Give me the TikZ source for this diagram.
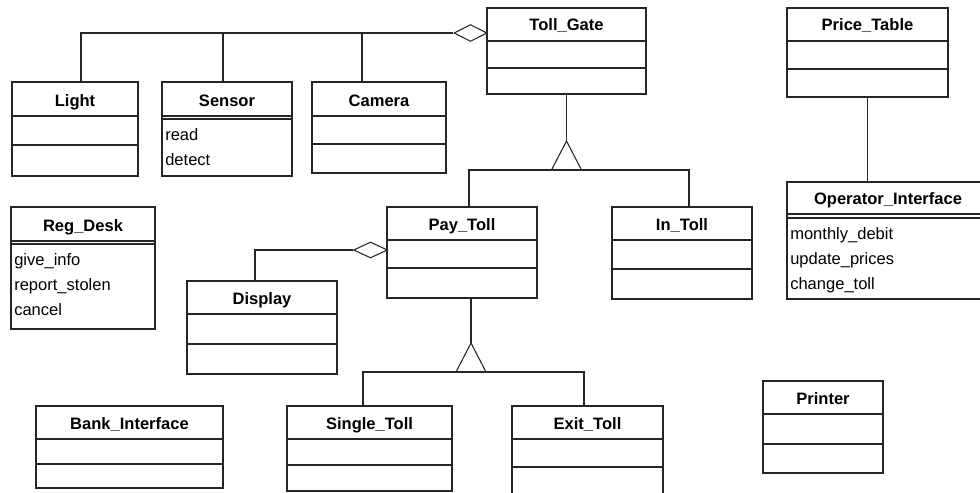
\documentclass[tikz,border=0pt]{standalone}
\usepackage{fontspec}
\setmainfont{Liberation Sans}
\usetikzlibrary{fit,calc,shapes.geometric}

\tikzset{
  umlline/.style={draw=black!85, line width=0.8pt},
  classframe/.style={umlline, inner sep=0pt},
  classname/.style={font=\bfseries\fontsize{12.4}{15}\selectfont, anchor=base, inner sep=0pt},
  opname/.style={font=\fontsize{12.4}{15}\selectfont, anchor=base west, inner sep=0pt},
  aggdiamond/.style={diamond, umlline, fill=white, inner sep=0pt},
}

% #1 name, (#2,#3) top left, (#4,#5) bottom right, #6 bottom of the name compartment, #7 class name
\newcommand\umlclass[7]{%
  \node[classframe, fit={(#2,#3) (#4,#5)}] (#1) {};
  \node[classname] (#1-name) at ({(#2+#4)/2}, #6-10) {#7};
  \draw[umlline] (#2,#6) -- (#4,#6);
}
% #1 name, #2 left, #3 right, #4 y of the divider
\newcommand\umldivider[4]{\draw[umlline] (#2,#4) -- (#3,#4);}

\begin{document}
\begin{tikzpicture}[x=0.75pt, y=-0.75pt]
\useasboundingbox (0,0) rectangle (980,492);

% classes
\umlclass{tollgate}{487}{8}{646}{94}{41}{Toll\_Gate}
\umldivider{tollgate}{487}{646}{68}
\umlclass{pricetable}{787}{8}{948}{97}{41}{Price\_Table}
\umldivider{pricetable}{787}{948}{69}
\umlclass{light}{12}{82}{138}{176}{116}{Light}
\umldivider{light}{12}{138}{145}
\umlclass{sensor}{162}{82}{292}{176}{116}{Sensor}
\umldivider{sensor}{162}{292}{119}
\node[opname] (sensor-op1) at (165,140) {read};
\node[opname] (sensor-op2) at (165,165) {detect};
\umlclass{camera}{312}{82}{446}{173}{116}{Camera}
\umldivider{camera}{312}{446}{144}
\umlclass{regdesk}{11}{207}{155}{329}{241}{Reg\_Desk}
\umldivider{regdesk}{11}{155}{244}
\node[opname] (regdesk-op1) at (14,265) {give\_info};
\node[opname] (regdesk-op2) at (14,290) {report\_stolen};
\node[opname] (regdesk-op3) at (14,315) {cancel};
\umlclass{paytoll}{387}{207}{537}{298}{240}{Pay\_Toll}
\umldivider{paytoll}{387}{537}{268}
\umlclass{intoll}{612}{207}{752}{299}{240}{In\_Toll}
\umldivider{intoll}{612}{752}{269}
\umlclass{operator}{787}{182}{989}{299}{214}{Operator\_Interface}
\umldivider{operator}{787}{989}{218}
\node[opname] (operator-op1) at (790,239) {monthly\_debit};
\node[opname] (operator-op2) at (790,264) {update\_prices};
\node[opname] (operator-op3) at (790,289) {change\_toll};
\umlclass{display}{187}{281}{337}{374}{314}{Display}
\umldivider{display}{187}{337}{344}
\umlclass{bank}{36}{406}{223}{488}{439}{Bank\_Interface}
\umldivider{bank}{36}{223}{464}
\umlclass{single}{287}{406}{452}{491}{439}{Single\_Toll}
\umldivider{single}{287}{452}{465}
\umlclass{exit}{512}{406}{663}{496}{439}{Exit\_Toll}
\umldivider{exit}{512}{663}{467}
\umlclass{printer}{763}{381}{883}{473}{414}{Printer}
\umldivider{printer}{763}{883}{444}

% aggregation: Toll_Gate owns Light, Sensor, Camera
\node[aggdiamond, minimum width=24.75pt, minimum height=12.75pt] (agg1) at (470.5,33) {};
\coordinate (lightjoin) at (81,82);
\coordinate (sensorjoin) at (223,82);
\coordinate (camerajoin) at (362,82);
\draw[umlline] (agg1.west) -| (lightjoin);
\draw[umlline] (sensorjoin |- agg1.west) -- (sensorjoin);
\draw[umlline] (camerajoin |- agg1.west) -- (camerajoin);

% generalization: Pay_Toll and In_Toll are kinds of Toll_Gate
\coordinate (gen1tip) at (566.5,141);
\draw[umlline] (tollgate.south) -- (gen1tip);
\draw[umlline] (gen1tip) -- ++(-15,29) -- ++(30,0) -- cycle;
\coordinate (paytop) at (469,207);
\coordinate (intolltop) at (689,207);
\draw[umlline] (paytop) |- (intolltop |- 0,170) -- (intolltop);

% association: Price_Table -- Operator_Interface
\draw[umlline] (pricetable.south) -- (pricetable.south |- operator.north);

% aggregation: Pay_Toll owns Display
\node[aggdiamond, minimum width=25.5pt, minimum height=12pt] (agg2) at (370.5,250) {};
\coordinate (displayjoin) at (255,281);
\draw[umlline] (agg2.west) -| (displayjoin);

% generalization: Single_Toll and Exit_Toll are kinds of Pay_Toll
\coordinate (gen2top) at (471,298);
\coordinate (gen2tip) at (471,343);
\draw[umlline] (gen2top) -- (gen2tip);
\draw[umlline] (gen2tip) -- ++(-15,29) -- ++(30,0) -- cycle;
\coordinate (singletop) at (363,406);
\coordinate (exittop) at (584,406);
\draw[umlline] (singletop) |- (exittop |- 0,372) -- (exittop);
\end{tikzpicture}
\end{document}
